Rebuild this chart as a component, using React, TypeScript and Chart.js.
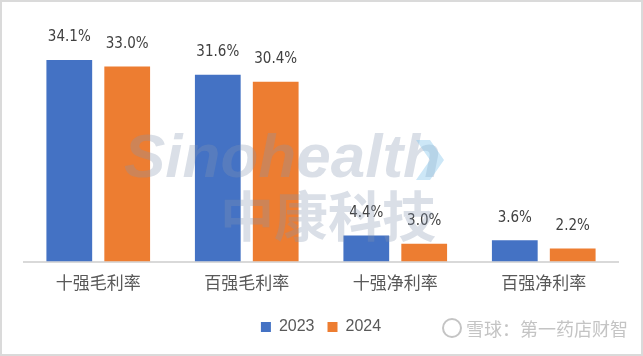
import React, { useEffect, useRef } from "react";
import { Chart, registerables } from "chart.js";

Chart.register(...registerables);

const categories = ["十强毛利率", "百强毛利率", "十强净利率", "百强净利率"];
const series2023 = [34.1, 31.6, 4.4, 3.6];
const series2024 = [33.0, 30.4, 3.0, 2.2];
const seriesNames = ["2023", "2024"];

const BLUE = "#4472C4";
const ORANGE = "#ED7D31";

const labelPlugin = {
  id: "valueLabels",
  afterDatasetsDraw(chart: any) {
    const ctx = chart.ctx;
    ctx.save();
    ctx.font = '15px "DejaVu Sans Condensed", "Liberation Sans Narrow", "Liberation Sans", sans-serif';
    ctx.fillStyle = "#404040";
    ctx.textAlign = "center";
    ctx.textBaseline = "bottom";
    chart.data.datasets.forEach((ds: any, i: number) => {
      const meta = chart.getDatasetMeta(i);
      meta.data.forEach((bar: any, j: number) => {
        ctx.fillText(ds.data[j].toFixed(1) + "%", bar.x, bar.y - 15);
      });
    });
    ctx.restore();
  },
};

const watermarkPlugin = {
  id: "watermark",
  afterDraw(chart: any) {
    const ctx = chart.ctx;
    ctx.save();
    ctx.globalAlpha = 0.3;
    ctx.fillStyle = "#8595b0";
    ctx.font = 'italic bold 62px "Liberation Sans", Arial, sans-serif';
    ctx.textBaseline = "middle";
    ctx.textAlign = "left";
    ctx.fillText("Sinohealth", 122, 158);
    ctx.font = 'bold 54px "Noto Sans CJK SC", sans-serif';
    ctx.fillText("中康科技", 218, 214);
    ctx.fillStyle = "#7fc4ea";
    ctx.globalAlpha = 0.4;
    ctx.beginPath();
    ctx.moveTo(414, 138);
    ctx.lineTo(428, 138);
    ctx.lineTo(442, 158);
    ctx.lineTo(428, 178);
    ctx.lineTo(414, 178);
    ctx.lineTo(428, 158);
    ctx.closePath();
    ctx.fill();
    ctx.restore();

    ctx.save();
    ctx.fillStyle = "#c4c4c4";
    ctx.strokeStyle = "#c4c4c4";
    ctx.lineWidth = 2;
    ctx.beginPath();
    ctx.arc(450, 326, 9, 0, Math.PI * 2);
    ctx.stroke();
    ctx.font = '18px "Noto Sans CJK SC", sans-serif';
    ctx.textBaseline = "middle";
    ctx.textAlign = "left";
    ctx.fillText("雪球：第一药店财智", 464, 327);
    ctx.restore();
  },
};

export default function App() {
  const ref = useRef<HTMLCanvasElement>(null);
  useEffect(() => {
    document.body.style.margin = "0";
    const chart = new Chart(ref.current!, {
      type: "bar",
      data: {
        labels: categories,
        datasets: [
          { label: seriesNames[0], data: series2023, backgroundColor: BLUE },
          { label: seriesNames[1], data: series2024, backgroundColor: ORANGE },
        ],
      },
      options: {
        animation: false,
        responsive: false,
        layout: { padding: { left: 22, right: 23, top: 23, bottom: 9 } },
        datasets: {
          bar: { categoryPercentage: 0.78, barPercentage: 0.79 },
        },
        scales: {
          x: {
            grid: { display: false },
            border: { display: true, color: "#d9d9d9", width: 2 },
            ticks: {
              color: "#595959",
              padding: 3,
              font: { size: 17, family: '"Noto Sans CJK SC", sans-serif' },
            },
          },
          y: { display: false, min: 0, max: 40 },
        },
        plugins: {
          legend: {
            position: "bottom",
            title: {
              display: true,
              text: " ",
              font: { size: 1, lineHeight: 1 },
              padding: { top: 0, bottom: 9 },
            },
            labels: {
              boxWidth: 10,
              boxHeight: 10,
              padding: 13,
              color: "#595959",
              font: { size: 16, family: '"Liberation Sans", Arial, sans-serif' },
            },
          },
          tooltip: { enabled: false },
        },
      },
      plugins: [labelPlugin, watermarkPlugin],
    });
    return () => chart.destroy();
  }, []);
  return (
    <div
      style={{
        position: "absolute",
        left: 0,
        top: 0,
        width: 643,
        height: 356,
        boxSizing: "border-box",
        border: "2px solid #dadada",
        background: "#fff",
        overflow: "hidden",
      }}
    >
      <canvas ref={ref} width={639} height={352} style={{ display: "block" }} />
    </div>
  );
}
